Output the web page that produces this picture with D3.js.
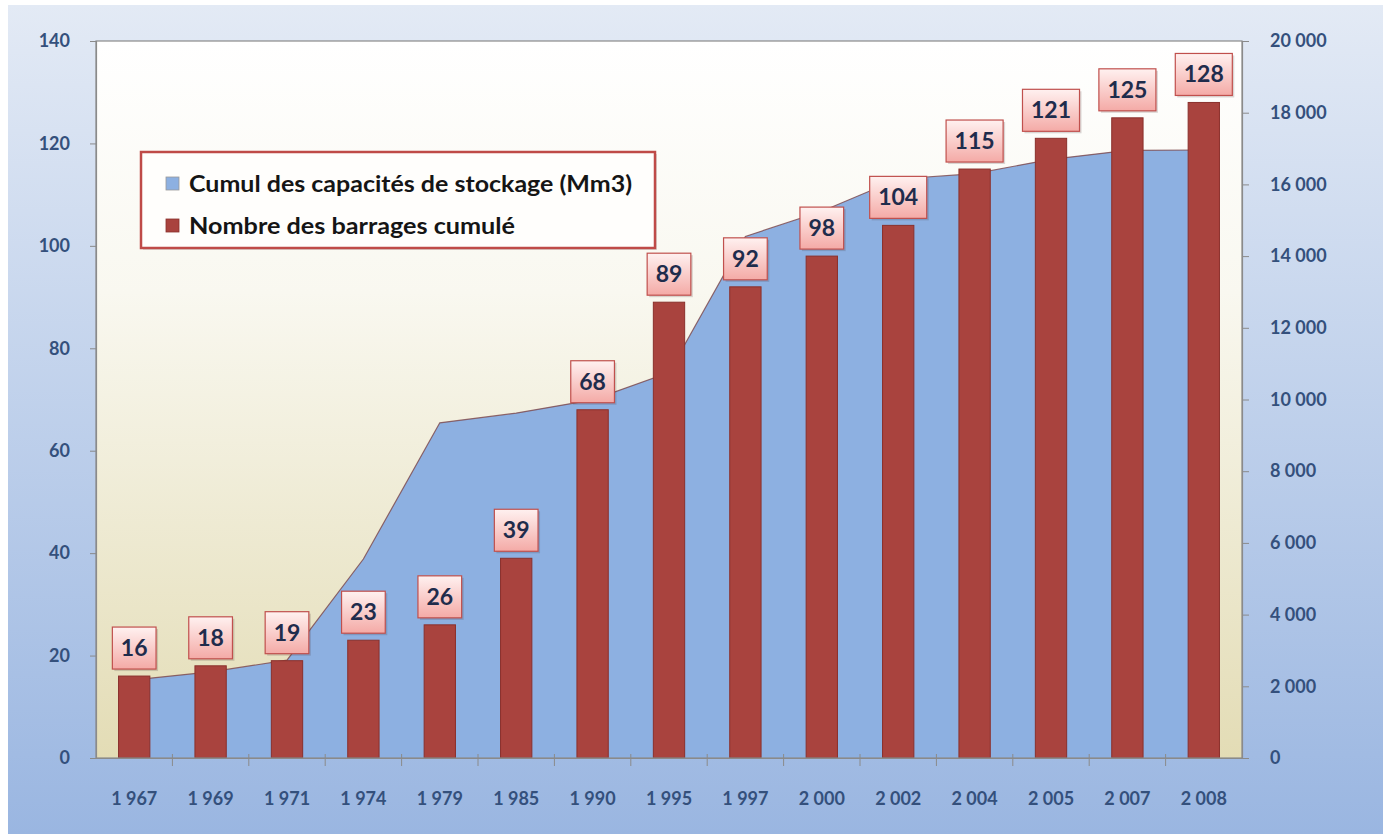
<!DOCTYPE html>
<html>
<head>
<meta charset="utf-8">
<script src="https://cdn.jsdelivr.net/npm/d3@7"></script>
<style>
  body { margin: 0; background: #fff; }
  svg { display: block; font-family: Lato, "Open Sans", sans-serif; }
</style>
</head>
<body>
<svg id="chart" width="1383" height="834"></svg>
<script>
// data
var years = [1967, 1969, 1971, 1974, 1979, 1985, 1990, 1995, 1997, 2000, 2002, 2004, 2005, 2007, 2008];
var damCounts = [16, 18, 19, 23, 26, 39, 68, 89, 92, 98, 104, 115, 121, 125, 128];
var capacity = [2180, 2400, 2730, 5550, 9350, 9620, 9990, 10750, 14550, 15250, 16150, 16300, 16700, 16950, 16960];
var leftTicks = [0, 20, 40, 60, 80, 100, 120, 140];
var rightTicks = [0, 2000, 4000, 6000, 8000, 10000, 12000, 14000, 16000, 18000, 20000];
var seriesNames = ["Cumul des capacités de stockage (Mm3)", "Nombre des barrages cumulé"];

(function() {
  var left = 96, right = 1242, top = 41, bottom = 758;
  var svg = d3.select("#chart");
  var fr = d3.formatLocale({ decimal: ",", thousands: " ", grouping: [3], currency: ["", " €"] });
  var fmt = fr.format(",d");

  var defs = svg.append("defs");
  var bg = defs.append("linearGradient").attr("id", "bg").attr("x1", 0).attr("y1", 0).attr("x2", 0).attr("y2", 1);
  bg.append("stop").attr("offset", "0%").attr("stop-color", "#e3eaf5");
  bg.append("stop").attr("offset", "100%").attr("stop-color", "#9ab6e1");
  var plotBg = defs.append("linearGradient").attr("id", "plotbg").attr("x1", 0).attr("y1", 0).attr("x2", 0).attr("y2", 1);
  plotBg.append("stop").attr("offset", "0%").attr("stop-color", "#ffffff");
  plotBg.append("stop").attr("offset", "35%").attr("stop-color", "#f9f8f0");
  plotBg.append("stop").attr("offset", "100%").attr("stop-color", "#e3dcb5");
  var lab = defs.append("linearGradient").attr("id", "lab").attr("x1", 0).attr("y1", 0).attr("x2", 0).attr("y2", 1);
  lab.append("stop").attr("offset", "0%").attr("stop-color", "#fff1f0");
  lab.append("stop").attr("offset", "100%").attr("stop-color", "#f4aaa6");

  // backgrounds
  svg.append("rect").attr("x", 8).attr("y", 5).attr("width", 1375).attr("height", 829).attr("fill", "url(#bg)");
  svg.append("rect").attr("x", left).attr("y", top).attr("width", right - left).attr("height", bottom - top)
    .attr("fill", "url(#plotbg)");

  // scales
  var x = d3.scaleBand().domain(years).range([left, right]).paddingInner(0.59).paddingOuter(0.295);
  var yL = d3.scaleLinear().domain([0, 140]).range([bottom, top]);
  var yR = d3.scaleLinear().domain([0, 20000]).range([bottom, top]);
  var cx = function(d) { return x(d) + x.bandwidth() / 2; };

  // capacity area
  var pts = years.map(function(d, i) { return { year: d, v: capacity[i] }; });
  svg.append("path").datum(pts)
    .attr("fill", "#8db0e1")
    .attr("d", d3.area().x(function(d) { return cx(d.year); }).y0(bottom).y1(function(d) { return yR(d.v); }));
  svg.append("path").datum(pts)
    .attr("fill", "none").attr("stroke", "#7a4549").attr("stroke-width", 1.2).attr("stroke-opacity", 0.8)
    .attr("d", d3.line().x(function(d) { return cx(d.year); }).y(function(d) { return yR(d.v); }));

  // bars
  var bars = years.map(function(d, i) { return { year: d, v: damCounts[i] }; });
  svg.selectAll("rect.bar").data(bars).enter().append("rect").attr("class", "bar")
    .attr("x", function(d) { return x(d.year); })
    .attr("y", function(d) { return yL(d.v); })
    .attr("width", x.bandwidth())
    .attr("height", function(d) { return bottom - yL(d.v); })
    .attr("fill", "#a9433e").attr("stroke", "#8a302c").attr("stroke-width", 1);

  // frame
  svg.append("rect").attr("x", left).attr("y", top).attr("width", right - left).attr("height", bottom - top)
    .attr("fill", "none").attr("stroke", "#8a8a8a").attr("stroke-width", 1.2);

  // axes
  var axisColor = "#34507c";
  var gl = svg.append("g").attr("transform", "translate(" + left + ",0)")
    .call(d3.axisLeft(yL).tickValues(leftTicks).tickSize(6).tickPadding(20).tickFormat(fmt));
  var gr = svg.append("g").attr("transform", "translate(" + right + ",0)")
    .call(d3.axisRight(yR).tickValues(rightTicks).tickSize(7).tickPadding(21).tickFormat(fmt));
  var gb = svg.append("g").attr("transform", "translate(0," + bottom + ")")
    .call(d3.axisBottom(x).tickSize(0).tickPadding(34).tickFormat(fmt));
  [gl, gr, gb].forEach(function(g) {
    g.select(".domain").attr("stroke", "#8a8a8a").attr("stroke-width", 1.2);
    g.selectAll(".tick line").attr("stroke", "#8a8a8a");
    g.selectAll("text").attr("fill", axisColor).style("font-size", "18px").style("font-weight", 700)
      .style("font-family", "Lato, sans-serif");
  });
  // category separators on the x axis
  svg.selectAll("line.sep").data(years.slice(1)).enter().append("line").attr("class", "sep")
    .attr("x1", function(d) { return x(d) - x.step() * x.paddingInner() / 2; })
    .attr("x2", function(d) { return x(d) - x.step() * x.paddingInner() / 2; })
    .attr("y1", bottom - 4).attr("y2", bottom + 8)
    .attr("stroke", "#8a8a8a");

  // value labels
  var labels = svg.selectAll("g.lbl").data(bars).enter().append("g").attr("class", "lbl");
  labels.each(function(d) {
    var g = d3.select(this);
    var t = g.append("text").text(d.v)
      .attr("x", cx(d.year)).attr("y", yL(d.v) - 7 - 21 + 8)
      .attr("text-anchor", "middle")
      .attr("fill", "#1f2c4c").style("font-size", "23px").style("font-weight", 700);
    var w = t.node().getComputedTextLength() + 17;
    var h = 42, by = yL(d.v) - 7 - h;
    g.insert("rect", "text").attr("x", cx(d.year) - w / 2 + 2).attr("y", by + 2).attr("width", w).attr("height", h)
      .attr("fill", "rgba(60,40,40,0.18)");
    g.insert("rect", "text").attr("x", cx(d.year) - w / 2).attr("y", by).attr("width", w).attr("height", h)
      .attr("fill", "url(#lab)").attr("stroke", "#c0504d").attr("stroke-width", 1.2);
  });

  // legend
  var lg = svg.append("g");
  lg.append("rect").attr("x", 143).attr("y", 154).attr("width", 514).attr("height", 96).attr("fill", "rgba(0,0,0,0.12)");
  lg.append("rect").attr("x", 141).attr("y", 152).attr("width", 514).attr("height", 96)
    .attr("fill", "#fffefc").attr("stroke", "#bf4b48").attr("stroke-width", 2.5);
  var swatch = ["#8db0e1", "#a9433e"];
  var textLen = [443, 326];
  seriesNames.forEach(function(name, i) {
    var yy = 184 + i * 42;
    lg.append("rect").attr("x", 166).attr("y", yy - 7).attr("width", 13).attr("height", 13)
      .attr("fill", swatch[i]).attr("stroke", i ? "#8a302c" : "#9a9a9a").attr("stroke-width", 0.8);
    lg.append("text").attr("x", 189).attr("y", yy + 8).text(name)
      .attr("textLength", textLen[i]).attr("lengthAdjust", "spacingAndGlyphs")
      .attr("fill", "#151515").style("font-size", "23px").style("font-weight", 700);
  });
})();
</script>
</body>
</html>
